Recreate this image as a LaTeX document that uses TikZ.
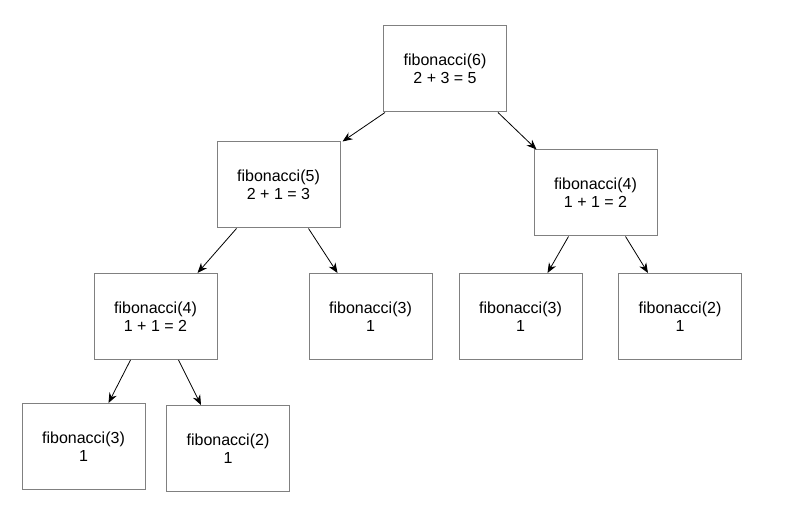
\documentclass[tikz,border=0pt]{standalone}
\usepackage{fontspec}
\setmainfont{Liberation Sans}
\usetikzlibrary{arrows.meta}
\begin{document}
\begin{tikzpicture}[x=0.5pt,y=-0.5pt,call/.style={shape=rectangle,draw=gray,line width=0.5pt,minimum width=61.5pt,minimum height=43pt,align=center,font=\fontsize{8}{9.2}\selectfont},link/.style={-{Stealth[length=5pt,width=4pt]},line width=0.4pt,black}]
\useasboundingbox (0,0) rectangle (788,522);

\node[call] (F6) at (445,69) {fibonacci(6)\\2 + 3 = 5};

\node[call] (F5) at (278.5,185) {fibonacci(5)\\2 + 1 = 3};
\node[call] (F4r) at (595.5,193) {fibonacci(4)\\1 + 1 = 2};
\draw[link] ([xshift=1pt]F6.south west) -- ([xshift=1pt]F5.north east);
\draw[link] ([xshift=-4.5pt]F6.south east) -- ([xshift=1.5pt]F4r.north west);

\node[call] (F4l) at (155.5,316.5) {fibonacci(4)\\1 + 1 = 2};
\node[call] (F3m) at (370.5,316.5) {fibonacci(3)\\1};
\draw[link] ([xshift=10pt]F5.south west) -- ([xshift=-10pt]F4l.north east);
\draw[link] ([xshift=46pt]F5.south west) -- ([xshift=14.5pt]F3m.north west);

\node[call] (F3r) at (520.5,316.5) {fibonacci(3)\\1};
\node[call] (F2r) at (680,316.5) {fibonacci(2)\\1};
\draw[link] ([xshift=17.5pt]F4r.south west) -- ([xshift=44.5pt]F3r.north west);
\draw[link] ([xshift=46pt]F4r.south west) -- ([xshift=15pt]F2r.north west);

\node[call] (F3b) at (83.5,446.5) {fibonacci(3)\\1};
\node[call] (F2b) at (228,448.5) {fibonacci(2)\\1};
\draw[link] ([xshift=18.5pt]F4l.south west) -- ([xshift=43.5pt]F3b.north west);
\draw[link] ([xshift=42.5pt]F4l.south west) -- ([xshift=17.5pt]F2b.north west);
\end{tikzpicture}
\end{document}
